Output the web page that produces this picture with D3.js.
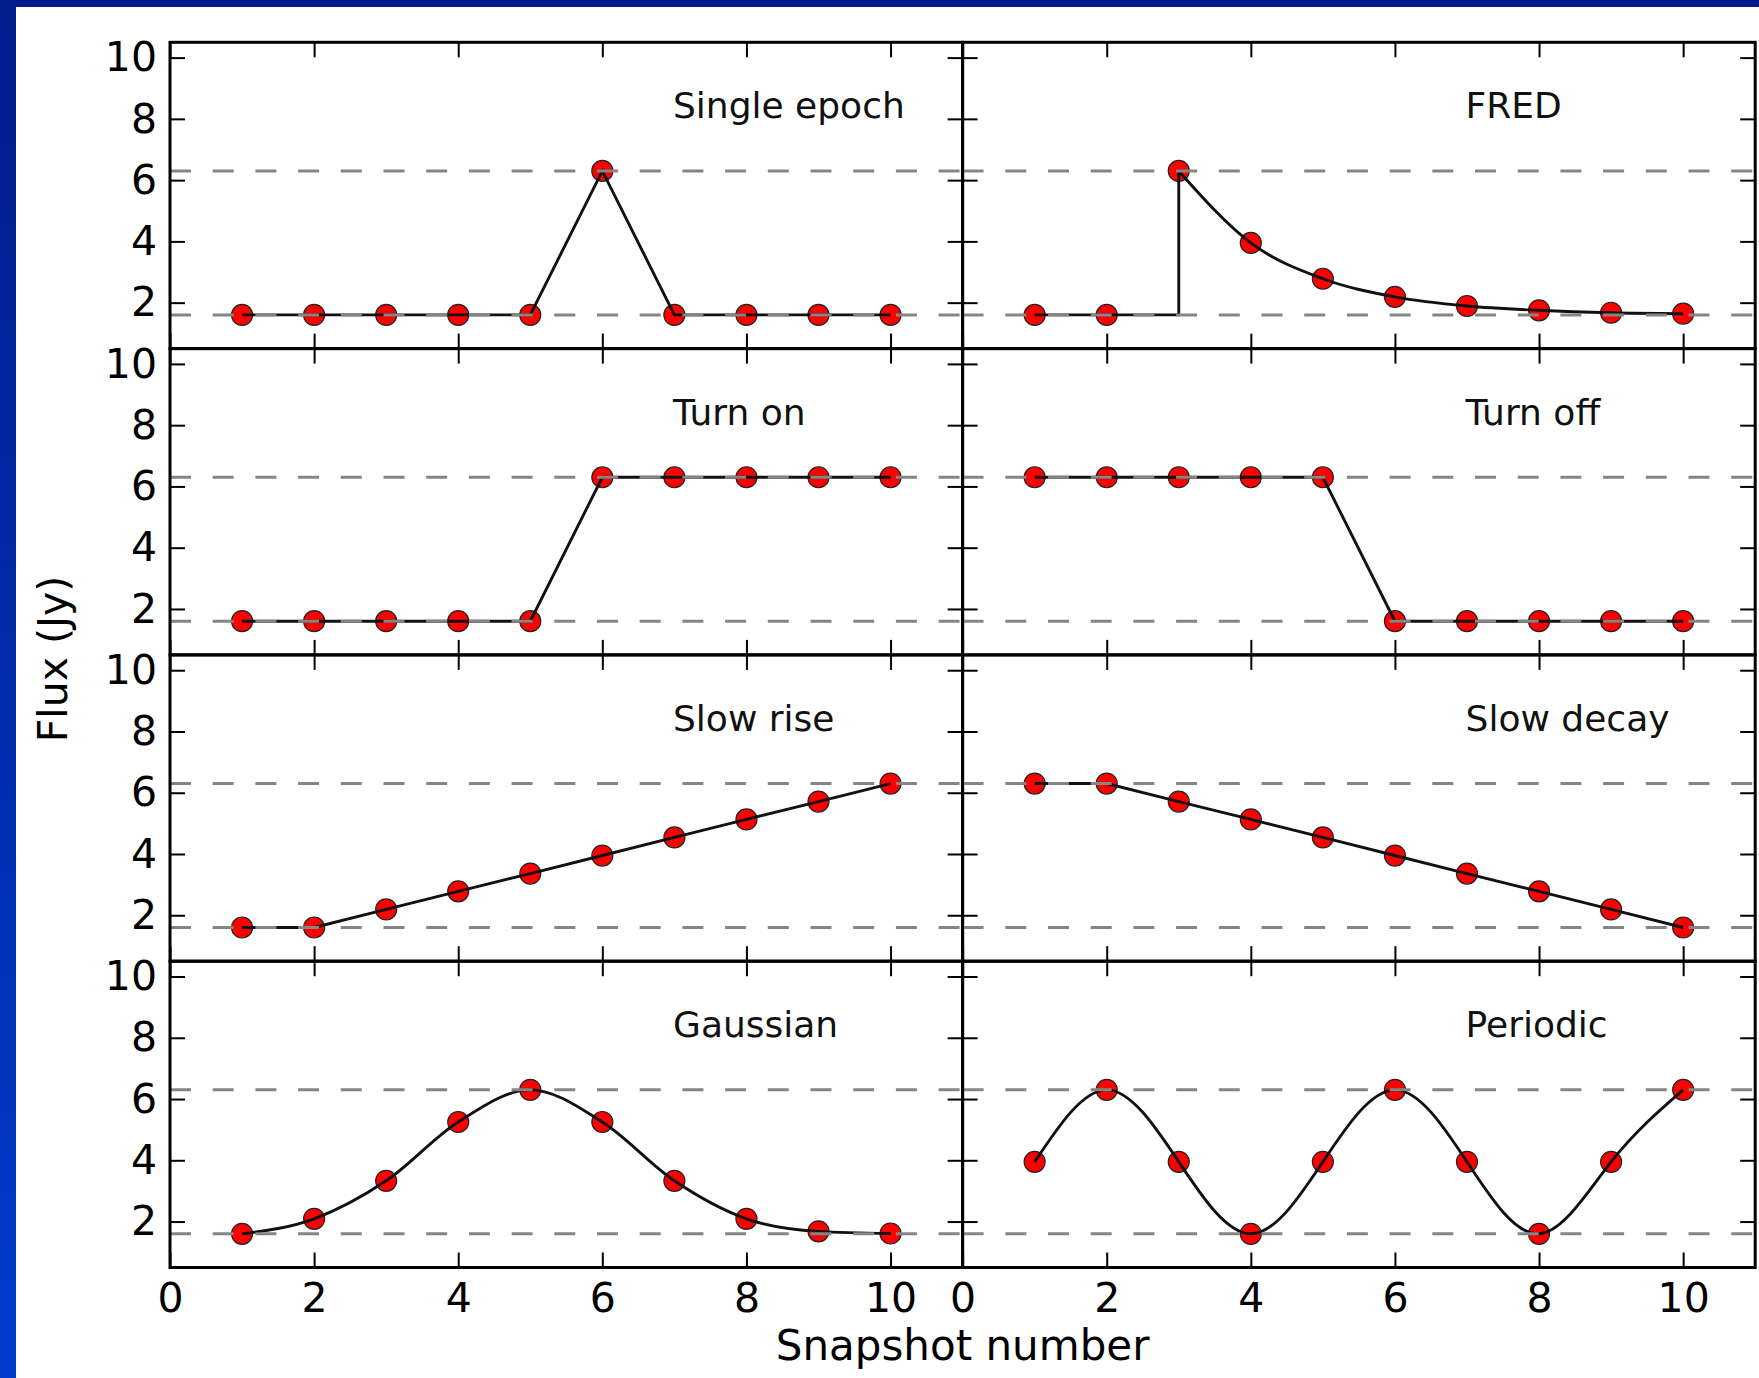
<!DOCTYPE html>
<html>
<head>
<meta charset="utf-8">
<script src="https://cdn.jsdelivr.net/npm/d3@7"></script>
<style>
  body { margin: 0; background: #fff; }
  text { font-family: "DejaVu Sans", sans-serif; }
</style>
</head>
<body>
<div id="chart"></div>
<script>
// data
const snapshots = [1, 2, 3, 4, 5, 6, 7, 8, 9, 10];
const fluxLevels = [1.6, 6.3];
const xTicks = [0, 2, 4, 6, 8, 10];
const yTicks = [2, 4, 6, 8, 10];
const panelTitles = ['Single epoch', 'FRED', 'Turn on', 'Turn off',
                     'Slow rise', 'Slow decay', 'Gaussian', 'Periodic'];

const singleEpoch = [1.6, 1.6, 1.6, 1.6, 1.6, 6.3, 1.6, 1.6, 1.6, 1.6];
const fred        = [1.6, 1.6, 6.3, 3.95, 2.78, 2.19, 1.89, 1.75, 1.67, 1.64];
const fredOnset   = 3;   // snapshot where the flare jumps up
const turnOn      = [1.6, 1.6, 1.6, 1.6, 1.6, 6.3, 6.3, 6.3, 6.3, 6.3];
const turnOff     = [6.3, 6.3, 6.3, 6.3, 6.3, 1.6, 1.6, 1.6, 1.6, 1.6];
const slowRise    = [1.6, 1.6, 2.19, 2.78, 3.36, 3.95, 4.54, 5.13, 5.71, 6.3];
const slowDecay   = [6.3, 6.3, 5.71, 5.13, 4.54, 3.95, 3.36, 2.78, 2.19, 1.6];
const gaussian    = [1.6, 2.09, 3.33, 5.25, 6.3, 5.25, 3.33, 2.09, 1.68, 1.61];
const periodic    = [3.95, 6.3, 3.95, 1.6, 3.95, 6.3, 3.95, 1.6, 3.95, 6.3];

const panelFlux = [singleEpoch, fred, turnOn, turnOff, slowRise, slowDecay, gaussian, periodic];
const panelCurve = [d3.curveLinear, 'fred', d3.curveLinear, d3.curveLinear,
                    d3.curveLinear, d3.curveLinear, d3.curveMonotoneX, d3.curveNatural];

const chartWidth = 1759, chartHeight = 1378;
const padLeft = 170, padTop = 42.3, colW = 792.6, rowH = 306.3;

const svg = d3.select('#chart').append('svg')
    .attr('width', chartWidth)
    .attr('height', chartHeight);

// blue slide frame
const grad = svg.append('defs').append('linearGradient')
    .attr('id', 'frame').attr('x1', 0).attr('y1', 0).attr('x2', 0).attr('y2', 1);
grad.append('stop').attr('offset', 0).attr('stop-color', '#021c8c');
grad.append('stop').attr('offset', 1).attr('stop-color', '#003ccc');
svg.append('rect').attr('width', chartWidth).attr('height', chartHeight).attr('fill', '#fff');
svg.append('rect').attr('width', 16).attr('height', chartHeight).attr('fill', 'url(#frame)');
svg.append('rect').attr('width', chartWidth).attr('height', 7).attr('fill', '#021c8c');

let x = d3.scaleLinear().domain([0, 11]).range([0, colW]);
let y = d3.scaleLinear().domain([0.5, 10.5]).range([rowH, 0]);

function styleAxis(sel) {
    sel.attr('font-size', 41).attr('font-family', '"DejaVu Sans", sans-serif');
    sel.selectAll('.domain').remove();
    sel.selectAll('line').attr('stroke', '#000').attr('stroke-width', 2);
    sel.selectAll('text').attr('fill', '#000');
}

panelTitles.forEach((title, i) => {
    let col = i % 2, row = Math.floor(i / 2);
    let flux = panelFlux[i];
    let pts = snapshots.map((s, k) => [s, flux[k]]);

    let g = svg.append('g')
        .attr('transform', `translate(${padLeft + col * colW},${padTop + row * rowH})`);

    //ticks on all four sides, pointing inwards
    g.append('g').attr('transform', `translate(0,${rowH})`)
        .call(d3.axisBottom(x).tickValues(xTicks).tickSize(-15).tickPadding(15)
            .tickFormat(row === 3 ? d3.format('d') : () => ''))
        .call(styleAxis);
    g.append('g')
        .call(d3.axisTop(x).tickValues(xTicks).tickSize(-15).tickFormat(() => ''))
        .call(styleAxis);
    g.append('g')
        .call(d3.axisLeft(y).tickValues(yTicks).tickSize(-15).tickPadding(13)
            .tickFormat(col === 0 ? d3.format('d') : () => ''))
        .call(styleAxis);
    g.append('g').attr('transform', `translate(${colW},0)`)
        .call(d3.axisRight(y).tickValues(yTicks).tickSize(-15).tickFormat(() => ''))
        .call(styleAxis);

    //markers
    g.selectAll('circle.pt')
        .data(pts)
        .enter().append('circle')
        .attr('class', 'pt')
        .attr('cx', d => x(d[0]))
        .attr('cy', d => y(d[1]))
        .attr('r', 10.5)
        .attr('fill', '#ff0000')
        .attr('stroke', '#222')
        .attr('stroke-width', 1.2);

    //light curve
    let curve = panelCurve[i];
    let lineStyle = p => p.attr('fill', 'none').attr('stroke', '#111').attr('stroke-width', 2.9);
    if (curve === 'fred') {
        let k0 = snapshots.indexOf(fredOnset);
        let before = pts.slice(0, k0).concat([[fredOnset, flux[0]], pts[k0]]);
        g.append('path')
            .attr('d', d3.line().x(d => x(d[0])).y(d => y(d[1])).curve(d3.curveLinear)(before))
            .call(lineStyle);
        g.append('path')
            .attr('d', d3.line().x(d => x(d[0])).y(d => y(d[1])).curve(d3.curveMonotoneX)(pts.slice(k0)))
            .call(lineStyle);
    } else {
        g.append('path')
            .attr('d', d3.line().x(d => x(d[0])).y(d => y(d[1])).curve(curve)(pts))
            .call(lineStyle);
    }

    //reference levels
    g.selectAll('line.level')
        .data(fluxLevels)
        .enter().append('line')
        .attr('class', 'level')
        .attr('x1', 0).attr('x2', colW)
        .attr('y1', d => y(d)).attr('y2', d => y(d))
        .attr('stroke', '#858585')
        .attr('stroke-width', 3)
        .attr('stroke-dasharray', '21,21.7');

    g.append('text')
        .attr('x', 503)
        .attr('y', 76)
        .attr('font-size', 36)
        .attr('fill', '#111')
        .text(title);

    g.append('rect')
        .attr('width', colW).attr('height', rowH)
        .attr('fill', 'none')
        .attr('stroke', '#000')
        .attr('stroke-width', 3);
});

svg.append('text')
    .attr('x', padLeft + colW)
    .attr('y', 1360)
    .attr('text-anchor', 'middle')
    .attr('font-size', 42)
    .attr('fill', '#000')
    .text('Snapshot number');

svg.append('text')
    .attr('transform', 'translate(67,659) rotate(-90)')
    .attr('text-anchor', 'middle')
    .attr('font-size', 41)
    .attr('fill', '#000')
    .text('Flux (Jy)');
</script>
</body>
</html>
